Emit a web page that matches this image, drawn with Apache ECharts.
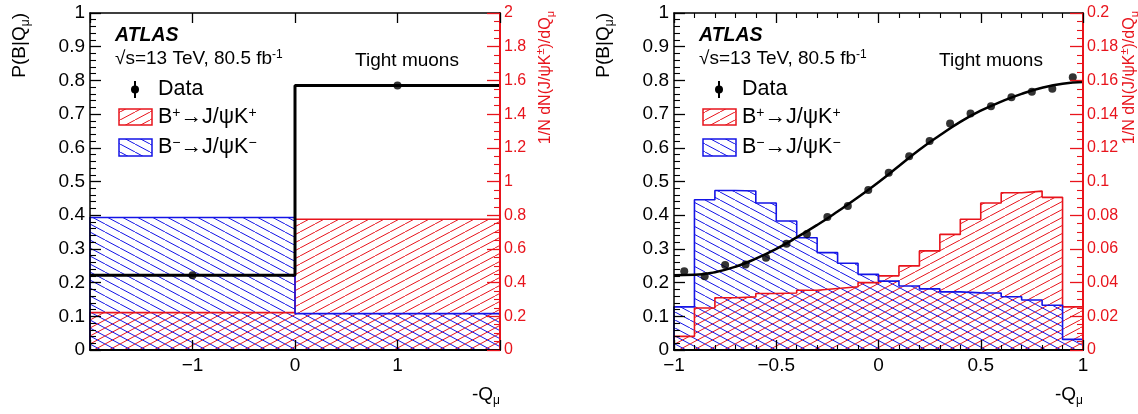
<!DOCTYPE html>
<html>
<head>
<meta charset="utf-8">
<script src="https://cdn.jsdelivr.net/npm/echarts@6/dist/echarts.min.js"></script>
<style>html,body{margin:0;padding:0;background:#fff}#c{width:1138px;height:414px}</style>
</head>
<body>
<div id="c"></div>
<script>
// ---------- data ----------
// Left panel: two charge bins (-Q_mu = -1, +1)
const leftEdges   = [-2, 0, 2];
const leftBplus   = [0.222, 0.776];   // right axis, 1/N dN/dQ
const leftBminus  = [0.786, 0.216];   // right axis
const leftDataX   = [-1, 1];
const leftDataY   = [0.222, 0.785];   // P(B|Q)
const leftFitY    = [0.222, 0.785];   // step line

// Right panel: 20 bins in -Q_mu
const rightEdges  = [-1,-0.9,-0.8,-0.7,-0.6,-0.5,-0.4,-0.3,-0.2,-0.1,0,0.1,0.2,0.3,0.4,0.5,0.6,0.7,0.8,0.9,1];
const rightBplus  = [0.0081,0.0249,0.0310,0.0315,0.0335,0.0338,0.0355,0.0365,0.0375,0.0400,0.0440,0.0499,0.0588,0.0686,0.0776,0.0872,0.0933,0.0943,0.0906,0.0256];
const rightBminus = [0.0256,0.0892,0.0947,0.0944,0.0872,0.0766,0.0666,0.0578,0.0515,0.0449,0.0409,0.0380,0.0363,0.0345,0.0339,0.0338,0.0316,0.0297,0.0266,0.0063];
const rightDataX  = [-0.95,-0.85,-0.75,-0.65,-0.55,-0.45,-0.35,-0.25,-0.15,-0.05,0.05,0.15,0.25,0.35,0.45,0.55,0.65,0.75,0.85,0.95];
const rightDataY  = [0.234,0.219,0.252,0.254,0.274,0.315,0.344,0.395,0.427,0.475,0.526,0.575,0.620,0.672,0.702,0.723,0.750,0.766,0.775,0.809];
const curveX      = [-1,-0.9,-0.8,-0.7,-0.6,-0.5,-0.4,-0.3,-0.2,-0.1,0,0.1,0.2,0.3,0.4,0.5,0.6,0.7,0.8,0.9,1];
const curveY      = [0.222,0.223,0.231,0.247,0.271,0.300,0.334,0.371,0.411,0.453,0.498,0.546,0.594,0.637,0.677,0.710,0.737,0.760,0.778,0.790,0.795];

// ---------- style ----------
const RED = '#e8141c', BLUE = '#1414e6', FONT = 'Liberation Sans, Arial, sans-serif';
function hatch(color, up) {
  const w = 15, h = 8, c = document.createElement('canvas');
  c.width = w; c.height = h;
  const g = c.getContext('2d');
  g.strokeStyle = color; g.lineWidth = 1;
  for (let k = -1; k <= 1; k++) {
    g.beginPath();
    if (up) { g.moveTo(k*w, h); g.lineTo(k*w + w, 0); }
    else { g.moveTo(k*w, 0); g.lineTo(k*w + w, h); }
    g.stroke();
  }
  return { image: c, repeat: 'repeat' };
}
const redPat = hatch(RED, true), bluePat = hatch(BLUE, false);

function stepPts(edges, vals) {
  const p = [[edges[0], 0]];
  for (let i = 0; i < vals.length; i++) p.push([edges[i], vals[i]]);
  p.push([edges[edges.length-1], vals[vals.length-1]]);
  p.push([edges[edges.length-1], 0]);
  return p;
}
const zip = (a, b) => a.map((v, i) => [v, b[i]]);
const fmtX = v => v < 0 ? '\u2212' + Math.abs(v) : String(v);

function xAx(grid, min, max, interval, pos, minor, hideEnds) {
  return {
    type: 'value', gridIndex: grid, min, max, interval, position: pos, zlevel: 1, z: 20,
    axisLine: { show: true, onZero: false, lineStyle: { color: '#000', width: pos === 'bottom' ? 2 : 1.5 } },
    axisTick: { show: true, inside: true, length: 10, lineStyle: { color: '#000', width: 1.3 } },
    minorTick: { show: minor, splitNumber: 5, length: 5, lineStyle: { color: '#000', width: 1.1 } },
    axisLabel: { show: pos === 'bottom', margin: 6, color: '#000', fontSize: 19, fontFamily: FONT,
      formatter: v => (hideEnds && (v === min || v === max)) ? '' : fmtX(v) },
    splitLine: { show: false }
  };
}
function yLeft(grid) {
  return {
    type: 'value', gridIndex: grid, min: 0, max: 1, interval: 0.1, position: 'left', zlevel: 1, z: 20,
    axisLine: { show: true, onZero: false, lineStyle: { color: '#000', width: 1.5 } },
    axisTick: { show: true, inside: true, length: 11, lineStyle: { color: '#000', width: 1.3 } },
    minorTick: { show: true, splitNumber: 5, length: 6, lineStyle: { color: '#000', width: 1.1 } },
    axisLabel: { margin: 5, color: '#000', fontSize: 19, fontFamily: FONT },
    splitLine: { show: false }
  };
}
function yRight(grid, max, interval) {
  return {
    type: 'value', gridIndex: grid, min: 0, max, interval, position: 'right', zlevel: 1, z: 20,
    axisLine: { show: true, onZero: false, lineStyle: { color: RED, width: 2 } },
    axisTick: { show: true, inside: true, length: 13, lineStyle: { color: RED, width: 1.3 } },
    minorTick: { show: true, splitNumber: 4, length: 6, lineStyle: { color: RED, width: 1.1 } },
    axisLabel: { margin: 4, color: RED, fontSize: 16, fontFamily: FONT },
    splitLine: { show: false }
  };
}

function histSeries(xi, yi, edges, vals, color, pat) {
  return { type: 'line', xAxisIndex: xi, yAxisIndex: yi, step: 'end', data: stepPts(edges, vals),
    symbol: 'none', lineStyle: { color, width: 1.6 }, areaStyle: { color: pat, opacity: 1 },
    silent: true, animation: false, z: 2 };
}

const rich = {
  sup: { fontSize: 12, fontFamily: FONT, verticalAlign: 'top', lineHeight: 20 },
  sub: { fontSize: 12, fontFamily: FONT, verticalAlign: 'bottom', lineHeight: 24 },
  n: { fontSize: 19, fontFamily: FONT, lineHeight: 20 }
};
const richL = {
  sup: { fontSize: 14, fontFamily: FONT, verticalAlign: 'top', lineHeight: 22 },
  n: { fontSize: 21.5, fontFamily: FONT, lineHeight: 22 }
};
const richR = {
  sup: { fontSize: 11, fontFamily: FONT, fill: RED, verticalAlign: 'top', lineHeight: 17 },
  sub: { fontSize: 11, fontFamily: FONT, fill: RED, verticalAlign: 'bottom', lineHeight: 21 },
  n: { fontSize: 16, fontFamily: FONT, fill: RED, lineHeight: 17 }
};

function panelGraphics(dx, axisRight) {
  const t = (x, y, text, extra) => ({ type: 'text', x: x + dx, y, silent: true, z: 10,
    style: Object.assign({ text, fill: '#000', font: '19px ' + FONT, verticalAlign: 'middle' }, extra || {}) });
  return [
    t(115, 36, 'ATLAS', { font: 'italic bold 19.5px ' + FONT }),
    t(115, 59, '{n|\u221As=13 TeV, 80.5 fb}{sup|-1}', { rich }),
    t(407, 61, 'Tight muons', { align: 'center' }),
    { type: 'line', silent: true, z: 10, shape: { x1: 135 + dx, y1: 81, x2: 135 + dx, y2: 98 }, style: { stroke: '#000', lineWidth: 2 } },
    { type: 'circle', silent: true, z: 10, shape: { cx: 135 + dx, cy: 89.5, r: 4 }, style: { fill: '#000' } },
    t(158, 89, 'Data', { font: '21.5px ' + FONT }),
    { type: 'rect', silent: true, z: 10, shape: { x: 119 + dx, y: 109, width: 33, height: 16 }, style: { fill: redPat, stroke: RED, lineWidth: 1.5 } },
    t(158, 117, '{n|B}{sup|+}{n|\u2192J/\u03C8K}{sup|+}', { rich: richL }),
    { type: 'rect', silent: true, z: 10, shape: { x: 119 + dx, y: 139, width: 33, height: 17 }, style: { fill: bluePat, stroke: BLUE, lineWidth: 1.5 } },
    t(158, 147, '{n|B}{sup|\u2212}{n|\u2192J/\u03C8K}{sup|\u2212}', { rich: richL }),
    // y-axis title (left)
    { type: 'text', x: 20 + dx, y: 13, rotation: Math.PI / 2, silent: true, z: 10,
      style: { text: '{n|P(B|Q}{sub|\u03BC}{n|)}', rich, align: 'right', verticalAlign: 'middle' } },
    // right axis title
    { type: 'text', x: 546 + dx, y: 11, rotation: Math.PI / 2, silent: true, z: 10,
      style: { text: '{n|1/N dN(J/\u03C8K}{sup|\u00B1}{n|)/dQ}{sub|\u03BC}', rich: richR, align: 'right', verticalAlign: 'middle' } },
    // x-axis title
    { type: 'text', x: axisRight, y: 395, silent: true, z: 10,
      style: { text: '{n|-Q}{sub|\u03BC}', rich, align: 'right', verticalAlign: 'middle' } }
  ];
}

const gL = panelGraphics(0, 500);
const gR = panelGraphics(584, 1083);

const chart = echarts.init(document.getElementById('c'), null, { renderer: 'canvas' });
chart.setOption({
  animation: false,
  backgroundColor: '#fff',
  grid: [
    { left: 90, top: 13, width: 410, height: 337 },
    { left: 674, top: 13, width: 409, height: 337 }
  ],
  xAxis: [
    xAx(0, -2, 2, 1, 'bottom', false, true),
    xAx(0, -2, 2, 1, 'top', false, true),
    xAx(1, -1, 1, 0.5, 'bottom', true, false),
    xAx(1, -1, 1, 0.5, 'top', true, false)
  ],
  yAxis: [ yLeft(0), yRight(0, 2, 0.2), yLeft(1), yRight(1, 0.2, 0.02) ],
  series: [
    histSeries(0, 1, leftEdges, leftBplus, RED, redPat),
    histSeries(0, 1, leftEdges, leftBminus, BLUE, bluePat),
    { type: 'line', xAxisIndex: 0, yAxisIndex: 0, step: 'end',
      data: zip(leftEdges, leftFitY.concat([leftFitY[leftFitY.length - 1]])),
      symbol: 'none', lineStyle: { color: '#000', width: 3 }, z: 4 },
    { type: 'scatter', xAxisIndex: 0, yAxisIndex: 0, data: zip(leftDataX, leftDataY),
      symbol: 'circle', symbolSize: 8, itemStyle: { color: '#000' }, z: 5 },
    histSeries(2, 3, rightEdges, rightBplus, RED, redPat),
    histSeries(2, 3, rightEdges, rightBminus, BLUE, bluePat),
    { type: 'line', xAxisIndex: 2, yAxisIndex: 2, smooth: true, data: zip(curveX, curveY),
      symbol: 'none', lineStyle: { color: '#000', width: 2.5 }, z: 4 },
    { type: 'scatter', xAxisIndex: 2, yAxisIndex: 2, data: zip(rightDataX, rightDataY),
      symbol: 'circle', symbolSize: 8, itemStyle: { color: '#000' }, z: 5 }
  ],
  graphic: gL.concat(gR)
});
</script>
</body>
</html>
